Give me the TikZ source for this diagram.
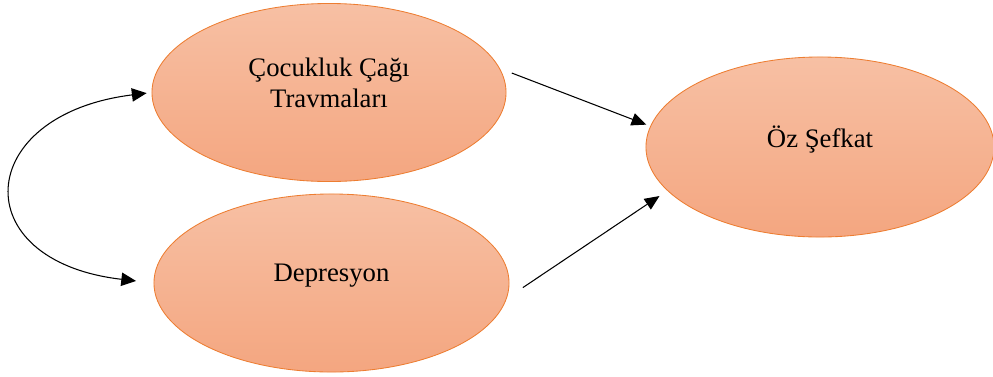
\documentclass[tikz,border=0pt]{standalone}
\usepackage{fontspec}
\setmainfont{Liberation Serif}
\usetikzlibrary{shapes.geometric,arrows.meta}

\definecolor{bubbletop}{RGB}{247,192,164}
\definecolor{bubblebot}{RGB}{244,166,128}
\definecolor{bubbleline}{RGB}{237,125,49}

\begin{document}
\begin{tikzpicture}[x=0.025cm, y=-0.025cm,
  bubble/.style={ellipse, draw=bubbleline, line width=0.6pt, top color=bubbletop, bottom color=bubblebot,
    font=\fontsize{19}{22}\selectfont, align=center, inner sep=0pt, text depth=14pt},
  link/.style={line width=0.75pt, -{Triangle[length=10.5pt, width=9pt]}},
  both/.style={line width=0.75pt, {Triangle[length=10.5pt, width=9.5pt]}-{Triangle[length=10.5pt, width=9.5pt]}}]
\useasboundingbox (0,0) rectangle (993,376);

% Ellipses
\node[bubble, minimum width=8.85cm, minimum height=4.45cm] (trauma) at (329,92.5) {Çocukluk Çağı\\Travmaları};
\node[bubble, minimum width=8.875cm, minimum height=4.45cm] (depr) at (331.5,283) {Depresyon};
\node[bubble, minimum width=8.7cm, minimum height=4.5cm] (self) at (820,147) {Öz Şefkat};

% Paths towards self-compassion
\draw[link, shorten <=9pt, shorten >=3pt] (trauma.8.75) -- (self.173.9);
\draw[link, shorten <=13.7pt, shorten >=6.7pt] (depr.-5.9) -- (self.196);

% Correlation between predictors
\draw[both, shorten <=3.5pt, shorten >=12.5pt] (trauma.west) .. controls +(-178,22) and +(-190,-22) .. (depr.west);

\end{tikzpicture}
\end{document}
